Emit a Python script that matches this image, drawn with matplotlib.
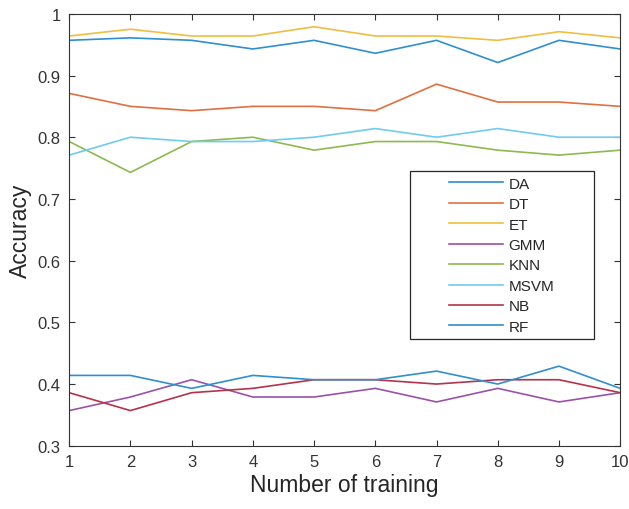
import numpy as np
import matplotlib
matplotlib.use("Agg")
import matplotlib.pyplot as plt
from matplotlib.patches import Rectangle

plt.rcParams['font.family'] = ['Liberation Sans', 'DejaVu Sans']

runs = np.arange(1, 11)
DA   = [0.957, 0.961, 0.957, 0.943, 0.957, 0.936, 0.957, 0.921, 0.957, 0.943]
DT   = [0.871, 0.850, 0.843, 0.850, 0.850, 0.843, 0.886, 0.857, 0.857, 0.850]
ET   = [0.964, 0.975, 0.964, 0.964, 0.979, 0.964, 0.964, 0.957, 0.971, 0.961]
GMM  = [0.357, 0.379, 0.407, 0.379, 0.379, 0.393, 0.371, 0.393, 0.371, 0.386]
KNN  = [0.793, 0.743, 0.793, 0.800, 0.779, 0.793, 0.793, 0.779, 0.771, 0.779]
MSVM = [0.771, 0.800, 0.793, 0.793, 0.800, 0.814, 0.800, 0.814, 0.800, 0.800]
NB   = [0.386, 0.357, 0.386, 0.393, 0.407, 0.407, 0.400, 0.407, 0.407, 0.386]
RF   = [0.414, 0.414, 0.393, 0.414, 0.407, 0.407, 0.421, 0.400, 0.429, 0.393]

names = ['DA', 'DT', 'ET', 'GMM', 'KNN', 'MSVM', 'NB', 'RF']
series = [DA, DT, ET, GMM, KNN, MSVM, NB, RF]
# MATLAB default line colours (RF wraps round to the first one)
colors = ['#2f8fd0', '#e0703f', '#f0be40', '#9a52a8', '#8cba4e', '#6fcbf0', '#b5334a', '#2f8fd0']

fig = plt.figure(figsize=(6.29, 5.10), dpi=100)
ax = fig.add_axes([0.110, 0.124, 0.876, 0.847])

for vals, name, c in zip(series, names, colors):
    ax.plot(runs, vals, color=c, lw=1.2, label=name)

ax.set_xlim(1, 10)
ax.set_ylim(0.3, 1.0)
ax.set_xticks(runs)
ax.set_yticks(np.arange(0.3, 1.01, 0.1))
ax.set_yticklabels(['0.3', '0.4', '0.5', '0.6', '0.7', '0.8', '0.9', '1'])
ax.tick_params(direction='in', top=True, right=True, length=4, width=0.8,
               labelsize=12, colors='#333333', pad=6)
for s in ax.spines.values():
    s.set_color('#333333')
    s.set_linewidth(0.8)

ax.set_xlabel('Number of training', fontsize=16.5, color='#262626', labelpad=3)
ax.set_ylabel('Accuracy', fontsize=16.5, color='#262626', labelpad=4)

# legend box drawn separately, entries centred inside it
ax.add_patch(Rectangle((0.618, 0.246), 0.335, 0.391, transform=ax.transAxes,
                       fill=False, ec='#262626', lw=0.9, zorder=5))
leg = ax.legend(loc='center', bbox_to_anchor=(0.785, 0.441), frameon=False,
                fontsize=11, handlelength=3.5, handletextpad=0.4,
                labelspacing=0.42, borderpad=0)
for t in leg.get_texts():
    t.set_color('#262626')

fig.savefig('out.png', dpi=100)
